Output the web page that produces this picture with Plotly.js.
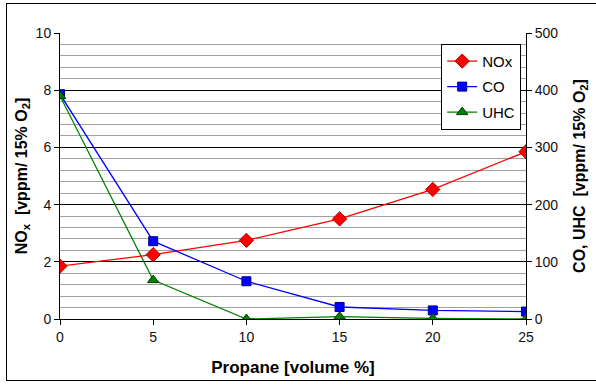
<!DOCTYPE html>
<html><head><meta charset="utf-8">
<script src="https://cdn.plot.ly/plotly-3.0.1.min.js"></script>
<style>
html,body{margin:0;padding:0;background:#fff;overflow:hidden}
#frame{position:absolute;left:6px;top:3px;width:600px;height:378px;border-top:1px solid #000;border-left:1px solid #000;border-bottom:1px solid #000;box-sizing:border-box}
#chart{position:absolute;left:0;top:0;width:596px;height:386px}
</style></head>
<body>
<div id="frame"></div>
<div id="chart"></div>
<script>
const propane = [0, 5, 10, 15, 20, 25];
const nox = [1.85, 2.25, 2.75, 3.5, 4.53, 5.85];
const co = [393, 136, 66, 21, 15, 13];
const uhc = [390, 68, 0, 4, 1, 0];

const font = '"Liberation Sans", Arial, sans-serif';

const traces = [
  {x: propane, y: nox, name: 'NOx', mode: 'lines+markers', yaxis: 'y', legendgroup: 'a',
   line: {color: '#ff0000', width: 1.3},
   marker: {symbol: 'diamond', size: 11, color: '#ff0000', line: {color: '#b00000', width: 1}}},
  {x: propane, y: co, name: 'CO', mode: 'lines+markers', yaxis: 'y2', legendgroup: 'b',
   line: {color: '#0000ff', width: 1.3},
   marker: {symbol: 'square', size: 9, color: '#0000ff', line: {color: '#000080', width: 1}}},
  {x: propane, y: uhc, name: 'UHC', mode: 'lines+markers', yaxis: 'y2', legendgroup: 'c',
   line: {color: '#008000', width: 1.3},
   marker: {symbol: 'triangle-up', size: 10, color: '#008000', line: {color: '#004000', width: 1}}}
];

const layout = {
  width: 596, height: 386,
  margin: {l: 60, r: 70, t: 33, b: 67},
  paper_bgcolor: 'rgba(0,0,0,0)', plot_bgcolor: '#fff',
  font: {family: font, size: 14, color: '#111'},
  showlegend: true,
  legend: {x: 0.818, y: 0.962, xanchor: 'left', yanchor: 'top', bgcolor: '#fff',
           bordercolor: '#000', borderwidth: 1, font: {family: font, size: 15, color: '#000'},
           traceorder: 'grouped', tracegroupgap: 3, itemwidth: 30},
  xaxis: {range: [0, 25], dtick: 5, tick0: 0, showgrid: false, zeroline: false,
          showline: true, linecolor: '#000', linewidth: 1, ticks: 'outside', ticklen: 5, tickcolor: '#000',
          tickfont: {size: 14, color: '#111'},
          title: {text: 'Propane [volume %]', font: {family: font, size: 17, color: '#000', weight: 'bold'}, standoff: 17}},
  yaxis: {range: [0, 10], dtick: 2, tick0: 0, showgrid: true, gridcolor: '#000', gridwidth: 1,
          zeroline: false, showline: true, linecolor: '#000', linewidth: 1,
          ticks: 'outside', ticklen: 5, tickcolor: '#000', tickfont: {size: 14, color: '#111'},
          minor: {dtick: 0.4, showgrid: true, gridcolor: '#a0a0a0', gridwidth: 1},
          title: {text: 'NO<sub>x</sub>  [vppm/ 15% O<sub>2</sub>]', font: {family: font, size: 16, color: '#000', weight: 'bold'}, standoff: 4}},
  yaxis2: {range: [0, 500], dtick: 100, tick0: 0, overlaying: 'y', side: 'right', showgrid: false,
          zeroline: false, showline: true, linecolor: '#000', linewidth: 1,
          ticks: 'outside', ticklen: 5, tickcolor: '#000', tickfont: {size: 14, color: '#111'},
          title: {text: 'CO, UHC  [vppm/ 15% O<sub>2</sub>]', font: {family: font, size: 16, color: '#000', weight: 'bold'}, standoff: 16}}
};

Plotly.newPlot('chart', traces, layout, {displayModeBar: false, staticPlot: true});
</script>
</body></html>
